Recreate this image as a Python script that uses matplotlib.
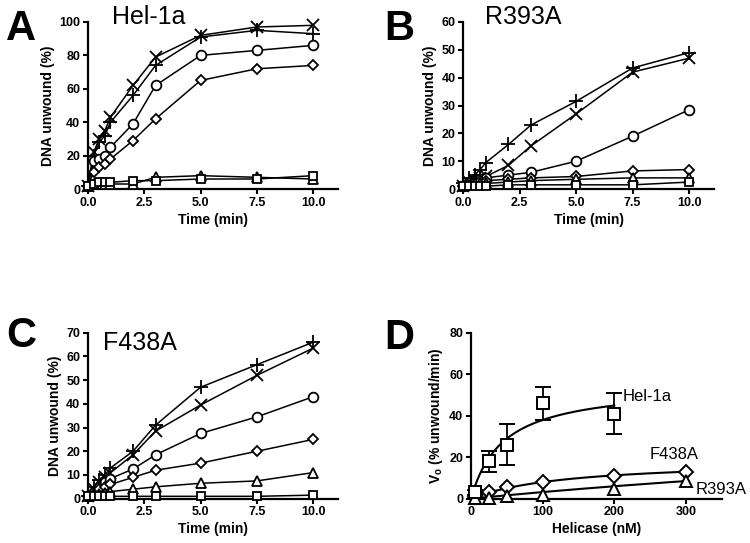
import numpy as np
import matplotlib
matplotlib.use('Agg')
import matplotlib.pyplot as plt

plt.rcParams['font.family'] = ['Liberation Sans', 'DejaVu Sans']

# time points (min)
time = [0, 0.25, 0.5, 0.75, 1, 2, 3, 5, 7.5, 10]

# panel A - Hel-1a
a_plus = [2, 20, 28, 32, 40, 56, 74, 91, 95, 93]
a_x = [2, 22, 30, 35, 43, 62, 79, 92, 97, 98]
a_circ = [2, 17, 18, 20, 25, 39, 62, 80, 83, 86]
a_diam = [2, 10, 13, 15, 18, 29, 42, 65, 72, 74]
a_tri = [2, 3, 3, 3, 3, 3, 7, 8, 7, 6]
a_sq = [2, 3, 4, 4, 4, 5, 5, 6, 6, 8]

# panel B - R393A
b_plus = [2, 4, 5, 7, 9.5, 16, 23, 31.5, 43.5, 49]
b_x = [1, 2.5, 3, 4, 4.5, 8.5, 15.5, 27, 42, 47]
b_circ = [1, 2.5, 3, 3.5, 4, 5, 6, 10, 19, 28.5]
b_diam = [1, 2, 2.5, 3, 3, 3.5, 4, 4.5, 6.5, 7]
b_tri = [1, 1.5, 2, 2, 2, 2.5, 3, 3.5, 4, 4]
b_sq = [1, 1, 1, 1, 1, 1.5, 1.5, 1.5, 1.5, 2.5]

# panel C - F438A
c_plus = [1, 5, 8, 10, 13, 20, 31, 47, 56.5, 66]
c_x = [1, 4, 7, 9, 11, 18.5, 28.5, 39.5, 52, 63.5]
c_circ = [1, 3, 5, 7, 8.5, 12.5, 18.5, 27.5, 34.5, 43]
c_diam = [1, 2, 4, 5, 6, 9, 12, 15, 20, 25]
c_tri = [1, 1.5, 2, 2.5, 3, 4, 5, 6.5, 7.5, 11]
c_sq = [1, 1, 1, 1, 1, 1, 1, 1, 1, 1.5]

# panel D - initial rates vs helicase concentration
hel_conc = [5, 25, 50, 100, 200]
hel_v = [3, 18, 26, 46, 41]
hel_err = [1, 5, 10, 8, 10]
mut_conc = [5, 25, 50, 100, 200, 300]
f438_v = [1, 3, 5.5, 8, 11, 13]
r393_v = [0.5, 0.5, 1.5, 2, 4.5, 8.5]
# hyperbolic fit parameters (Vmax, K)
hel_fit = (55, 45)
f438_fit = (18.9, 136)
r393_fit = (51, 1500)

markers = [('+', 10), ('x', 9), ('o', 7), ('D', 5.5), ('^', 7), ('s', 6)]


def style_axes(ax, ylim, yticks, xlim, xticks, xticklabels, xlabel, ylabel):
    ax.set_xlim(xlim)
    ax.set_ylim(ylim)
    ax.set_xticks(xticks)
    ax.set_xticklabels(xticklabels)
    ax.set_yticks(yticks)
    for s in ['top', 'right']:
        ax.spines[s].set_visible(False)
    for s in ['left', 'bottom']:
        ax.spines[s].set_linewidth(1.6)
    ax.tick_params(direction='out', length=3.5, width=1.5, labelsize=9, pad=2)
    for lab in ax.get_xticklabels() + ax.get_yticklabels():
        lab.set_fontweight('bold')
    ax.set_xlabel(xlabel, fontsize=10, fontweight='bold', labelpad=3)
    ax.set_ylabel(ylabel, fontsize=10, fontweight='bold', labelpad=3)


def time_panel(ax, series, ylim, yticks):
    for ys, (m, ms) in zip(series, markers):
        ax.plot(time, ys, color='black', lw=1.1, marker=m, ms=ms,
                mfc='white', mec='black', mew=1.3, clip_on=False, zorder=3)
    style_axes(ax, ylim, yticks, (0, 11.1), [0, 2.5, 5, 7.5, 10],
               ['0.0', '2.5', '5.0', '7.5', '10.0'], 'Time (min)', 'DNA unwound (%)')


fig = plt.figure(figsize=(7.5, 5.43), dpi=100)
axA = fig.add_axes([0.1173, 0.6519, 0.3333, 0.3076])
axB = fig.add_axes([0.6177, 0.6519, 0.3343, 0.3076])
axC = fig.add_axes([0.1173, 0.0816, 0.3333, 0.3057])
axD = fig.add_axes([0.628, 0.0816, 0.3343, 0.3057])

time_panel(axA, [a_plus, a_x, a_circ, a_diam, a_tri, a_sq], (0, 100), range(0, 101, 20))
time_panel(axB, [b_plus, b_x, b_circ, b_diam, b_tri, b_sq], (0, 60), range(0, 61, 10))
time_panel(axC, [c_plus, c_x, c_circ, c_diam, c_tri, c_sq], (0, 70), range(0, 71, 10))

# panel D
xf = np.linspace(0, 200, 200)
axD.plot(xf, hel_fit[0] * xf / (hel_fit[1] + xf), color='black', lw=1.5)
xf2 = np.linspace(0, 300, 200)
axD.plot(xf2, f438_fit[0] * xf2 / (f438_fit[1] + xf2), color='black', lw=1.5)
axD.plot(xf2, r393_fit[0] * xf2 / (r393_fit[1] + xf2), color='black', lw=1.5)
axD.errorbar(hel_conc, hel_v, yerr=hel_err, fmt='s', ms=9, mfc='white', mec='black',
             mew=1.4, ecolor='black', elinewidth=1.3, capsize=6, capthick=1.3,
             clip_on=False, zorder=3)
axD.plot(mut_conc, f438_v, 'D', ms=7, mfc='white', mec='black', mew=1.4, clip_on=False, zorder=3)
axD.plot(mut_conc, r393_v, '^', ms=8, mfc='white', mec='black', mew=1.4, clip_on=False, zorder=3)
style_axes(axD, (0, 80), range(0, 81, 20), (0, 350), [0, 100, 200, 300],
           ['0', '100', '200', '300'], 'Helicase (nM)', r'V$_\mathregular{o}$ (% unwound/min)')
axD.text(211, 45.5, 'Hel-1a', fontsize=12, va='bottom')
axD.text(249, 17.5, 'F438A', fontsize=12, va='bottom')
axD.text(314, 1.0, 'R393A', fontsize=12, va='bottom')

# panel letters and titles
for x, y, s in [(0.008, 0.983, 'A'), (0.512, 0.983, 'B'), (0.008, 0.418, 'C'), (0.512, 0.414, 'D')]:
    fig.text(x, y, s, fontsize=30, fontweight='bold', va='top', ha='left')
fig.text(112 / 750, 1 - 17 / 543, 'Hel-1a', fontsize=18, va='center')
fig.text(485 / 750, 1 - 17 / 543, 'R393A', fontsize=18, va='center')
fig.text(103 / 750, 1 - 343 / 543, 'F438A', fontsize=18, va='center')

fig.savefig('out.png', dpi=100)
